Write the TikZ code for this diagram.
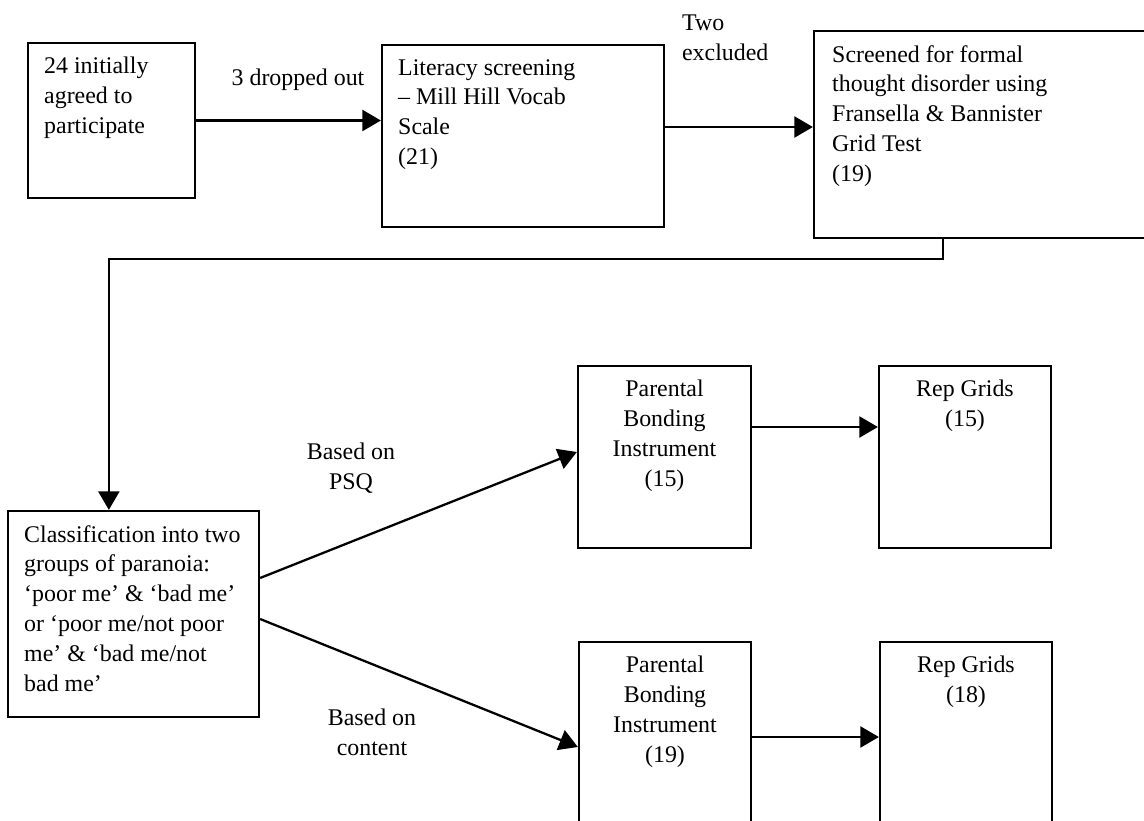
\documentclass[tikz,border=0pt]{standalone}
\usepackage{fontspec}
\setmainfont{Liberation Serif}
\usetikzlibrary{arrows.meta}

\begin{document}
\begin{tikzpicture}[x=0.02cm, y=-0.02cm]
		\useasboundingbox (0,0) rectangle (1144,821);
		\begin{scope}
		\tikzstyle{every node}=[inner sep=1pt, font=\fontsize{13.6}{17}\selectfont]
		\tikzstyle{box}=[draw, line width=1.3pt, minimum width=3.44cm, minimum height=3.64cm]
		\tikzstyle{tl}=[anchor=north west, align=left, inner xsep=0.34cm, inner ysep=0.3cm]
		\tikzstyle{tc}=[anchor=north, align=center, inner ysep=0.3cm]
		\tikzstyle{arr}=[line width=1.3pt, -{Triangle[length=0.37cm, width=0.42cm]}]
				\node[box, minimum width=3.34cm, minimum height=3.1cm,
					label={[tl]north west:24 initially\\agreed to\\participate}] (IA) at (111.5, 120.5) {};
				\node[box, minimum width=5.64cm,
					label={[tl]north west:Literacy screening\\– Mill Hill Vocab\\Scale\\(21)}] (LS) at (523, 136) {};
				\node[box, minimum width=7cm, minimum height=4.14cm,
					label={[tl, inner xsep=0.38cm]north west:Screened for formal\\thought disorder using\\Fransella \& Bannister\\Grid Test\\(19)}] (TD) at (989, 134.5) {};
				\node[box, minimum width=5.02cm, minimum height=4.12cm,
					label={[tl]north west:Classification into two\\groups of paranoia:\\‘poor me’ \& ‘bad me’\\or ‘poor me/not poor\\me’ \& ‘bad me/not\\bad me’}] (CL) at (133.5, 614) {};
				\node[box, minimum width=3.46cm,
					label={[tc]north:Parental\\Bonding\\Instrument\\(15)}] (PB1) at (664.5, 457) {};
				\node[box, label={[tc]north:Rep Grids\\(15)}] (RG1) at (965, 457) {};
				\node[box, minimum height=3.8cm,
					label={[tc]north:Parental\\Bonding\\Instrument\\(19)}] (PB2) at (665, 737) {};
				\node[box, minimum height=3.8cm, label={[tc]north:Rep Grids\\(18)}] (RG2) at (966, 737) {};

				\node (DO) at (298, 80) {3 dropped out};
				\node[anchor=west, align=left] (EX) at (680, 38) {Two\\excluded};
				\node[align=center] (PSQ) at (351, 468) {Based on\\PSQ};
				\node[align=center] (CT) at (372, 732) {Based on\\content};

				\draw[arr] (IA.east) -- (IA.east -| LS.west);
				\draw[arr] ([yshift=0.18cm]LS.east) -- ([yshift=0.18cm]LS.east -| TD.west);
				\draw[arr] ([xshift=2.6cm]TD.south west) -- ++(0,20) -| ([xshift=2.04cm]CL.north west);
				\draw[arr] ([yshift=0.72cm]CL.east) -- ([yshift=0.1cm]PB1.west);
				\draw[arr] ([yshift=-0.1cm]CL.east) -- ([yshift=-0.2cm]PB2.west);
				\draw[arr] ([yshift=0.6cm]PB1.east) -- ([yshift=0.6cm]PB1.east -| RG1.west);
				\draw[arr] (PB2.east) -- (RG2.west);
		\end{scope}
	\end{tikzpicture}
\end{document}
